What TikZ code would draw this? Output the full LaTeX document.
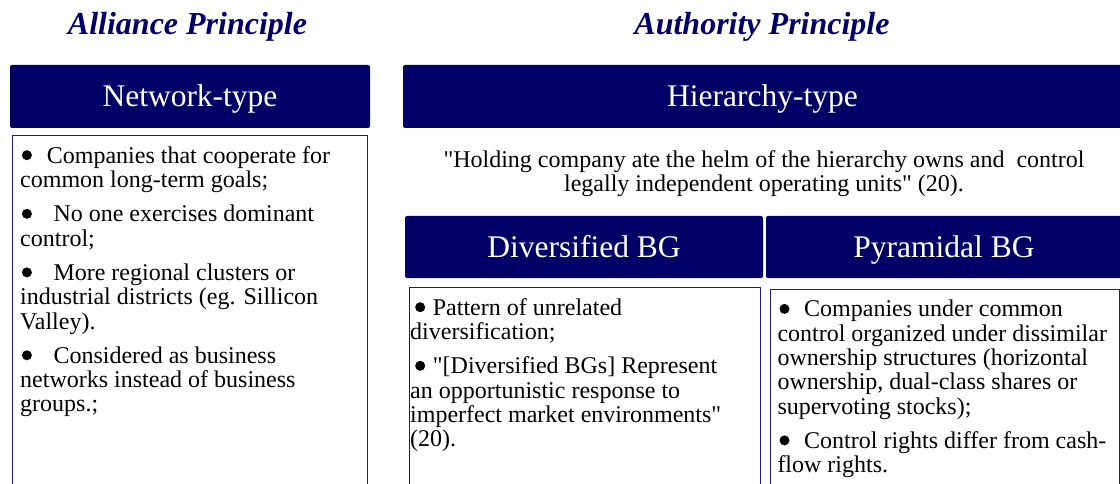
\documentclass[tikz,border=0pt]{standalone}
\usepackage{fontspec}
\setmainfont{Liberation Serif}[Ligatures=TeXOff]
\definecolor{navy}{RGB}{0,0,102}
\definecolor{panelline}{RGB}{30,30,120}
\newcommand{\bul}{\tikz[baseline=0pt]\fill[black] (5pt,8pt) circle[radius=5pt];}
\newcommand{\bitem}[2]{\makebox[#2pt][l]{\hspace{#1pt}\bul}}
\newcommand{\fstrut}{\rule{0pt}{20pt}}
\begin{document}
\begin{tikzpicture}[x=1pt,y=-1pt,
  title/.style={font=\fontsize{32}{36}\selectfont\bfseries\itshape, text=navy, inner sep=0, anchor=base},
  header/.style={rectangle, fill=navy, rounded corners=2pt, text=white,
    font=\fontsize{31.5}{36}\selectfont, inner sep=0, text height=20pt, text depth=0pt},
  panel/.style={rectangle, draw=panelline, line width=0.9pt, inner sep=0, anchor=north west},
  body/.style={font=\fontsize{24}{24.3}\selectfont, align=left, inner sep=0, anchor=north west, text=black},
]
\useasboundingbox (0,0) rectangle (1120,484);

% titles
\node[title] (alliance) at (187.5,34.5) {Alliance Principle};
\node[title] (authority) at (762,34.5) {Authority Principle};

% headers
\node[header, minimum width=360pt, minimum height=63pt] (network) at (190,96.5) {Network-type};
\node[header, minimum width=719pt, minimum height=63pt] (hierarchy) at (762.5,96.5) {Hierarchy-type};
\node[header, minimum width=358pt, minimum height=62pt] (diversified) at (584,247) {Diversified BG};
\node[header, minimum width=356pt, minimum height=62pt] (pyramidal) at (944,247) {Pyramidal BG};

% quote
\node[body, anchor=north, align=center] (quote) at (764,147)
  {\fstrut"Holding company ate the helm of the hierarchy owns and\ \ control\\
   legally independent operating units" (20).};

% panels
\node[panel, minimum width=355pt, minimum height=360pt] (netpanel) at (12,135) {};
\node[panel, minimum width=351.5pt, minimum height=210pt] (divpanel) at (408.5,287) {};
\node[panel, minimum width=349.5pt, minimum height=210pt] (pyrpanel) at (769.5,289) {};

% panel texts
\node[body] (nettext) at (20,143)
  {\fstrut\bitem{1.7}{26.7}Companies that cooperate for\\
   common long-term goals;\\[10pt]
   \bitem{1.7}{33.3}No one exercises dominant\\
   control;\\[10pt]
   \bitem{1.7}{33.3}More regional clusters or\\
   industrial districts (eg. Sillicon\\
   Valley).\\[10pt]
   \bitem{1.7}{33.3}Considered as business\\
   networks instead of business\\
   groups.;};

\node[body] (divtext) at (410,295)
  {\fstrut\bitem{5}{22.7}Pattern of unrelated\\
   diversification;\\[10pt]
   \bitem{5}{22.7}"[Diversified BGs] Represent\\
   an opportunistic response to\\
   imperfect market environments"\\
   (20).};

\node[body] (pyrtext) at (777.3,296.7)
  {\fstrut\bitem{2}{26.7}Companies under common\\
   control organized under dissimilar\\
   ownership structures (horizontal\\
   ownership, dual-class shares or\\
   supervoting stocks);\\[10pt]
   \bitem{2}{26.7}Control rights differ from cash-\\
   flow rights.};
\end{tikzpicture}
\end{document}
